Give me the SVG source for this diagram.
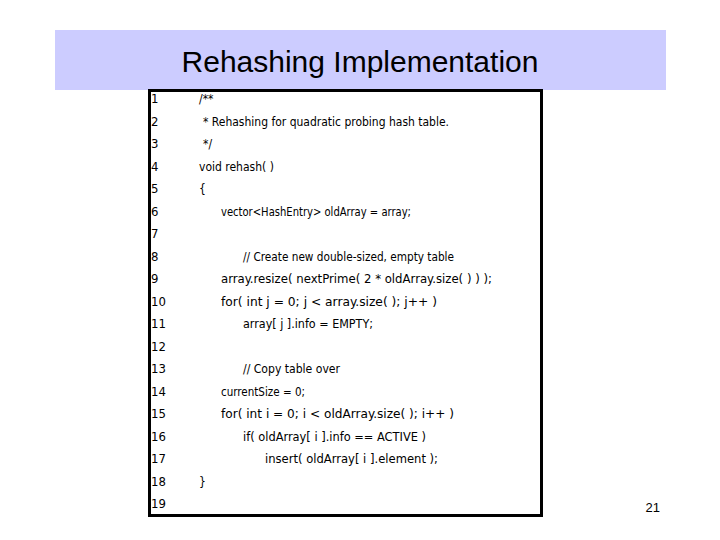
<svg xmlns="http://www.w3.org/2000/svg" width="720" height="540" viewBox="0 0 720 540">
<style>
.c{font-family:"DejaVu Sans Condensed","DejaVu Sans",sans-serif;font-size:12px;fill:#000}
.n{font-family:"DejaVu Sans Condensed","DejaVu Sans",sans-serif;font-size:13px;fill:#000}
</style>
<rect width="720" height="540" fill="#fff"/>
<g id="header">
<rect x="55" y="30" width="611" height="60" fill="#ccccff"/>
<text x="360" y="72" text-anchor="middle" font-family="Liberation Sans, Arial, sans-serif" font-size="30" fill="#000">Rehashing Implementation</text>
</g>
<g id="code">
<rect x="149.5" y="90.5" width="392" height="425" fill="#fff" stroke="#000" stroke-width="3"/>
<g class="n">
<text x="151" y="103">1</text><text x="151" y="126">2</text><text x="151" y="148">3</text><text x="151" y="171">4</text><text x="151" y="193">5</text><text x="151" y="216">6</text><text x="151" y="238">7</text><text x="151" y="261">8</text><text x="151" y="283">9</text><text x="151" y="306">10</text><text x="151" y="328">11</text><text x="151" y="351">12</text><text x="151" y="373">13</text><text x="151" y="396">14</text><text x="151" y="418">15</text><text x="151" y="441">16</text><text x="151" y="463">17</text><text x="151" y="486">18</text><text x="151" y="508">19</text>
</g>
<g class="c">
<text x="199" y="103">/**</text>
<text x="203" y="126" textLength="246" lengthAdjust="spacingAndGlyphs">* Rehashing for quadratic probing hash table.</text>
<text x="203" y="148">*/</text>
<text x="199" y="171">void rehash( )</text>
<text x="199" y="193">{</text>
<text x="221" y="216" textLength="190" lengthAdjust="spacingAndGlyphs">vector&lt;HashEntry&gt; oldArray = array;</text>
<text x="243" y="261" textLength="211" lengthAdjust="spacingAndGlyphs">// Create new double-sized, empty table</text>
<text x="221" y="283" textLength="271" lengthAdjust="spacingAndGlyphs">array.resize( nextPrime( 2 * oldArray.size( ) ) );</text>
<text x="221" y="306" textLength="216" lengthAdjust="spacingAndGlyphs">for( int j = 0; j &lt; array.size( ); j++ )</text>
<text x="243" y="328" textLength="130" lengthAdjust="spacingAndGlyphs">array[ j ].info = EMPTY;</text>
<text x="243" y="373" textLength="97" lengthAdjust="spacingAndGlyphs">// Copy table over</text>
<text x="221" y="396" textLength="84" lengthAdjust="spacingAndGlyphs">currentSize = 0;</text>
<text x="221" y="418" textLength="233" lengthAdjust="spacingAndGlyphs">for( int i = 0; i &lt; oldArray.size( ); i++ )</text>
<text x="243" y="441" textLength="183" lengthAdjust="spacingAndGlyphs">if( oldArray[ i ].info == ACTIVE )</text>
<text x="265" y="463" textLength="173" lengthAdjust="spacingAndGlyphs">insert( oldArray[ i ].element );</text>
<text x="199" y="486">}</text>
</g>
</g>
<text x="660" y="512" text-anchor="end" font-family="Liberation Sans, Arial, sans-serif" font-size="13" fill="#000">21</text>
</svg>
